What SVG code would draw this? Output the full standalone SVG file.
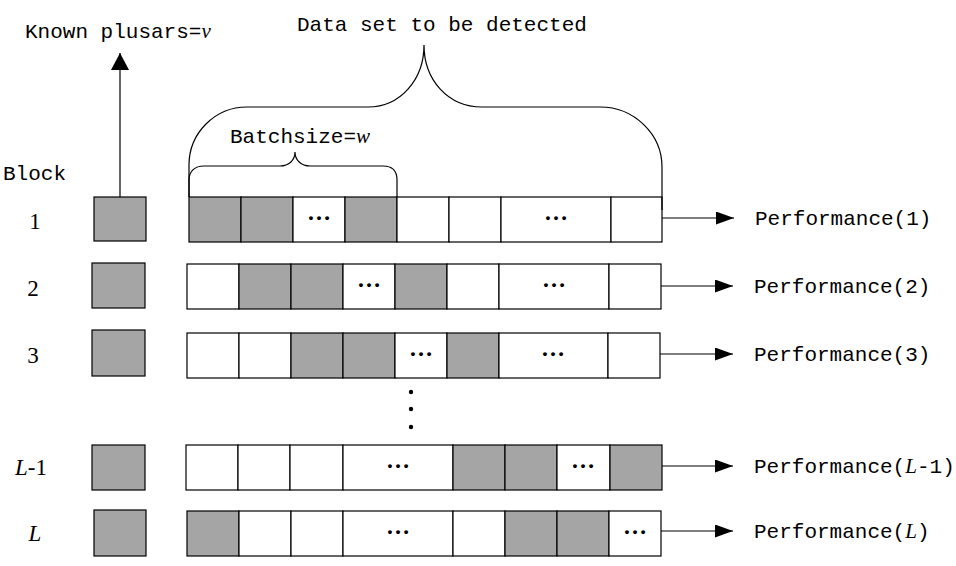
<svg xmlns="http://www.w3.org/2000/svg" width="956" height="566" viewBox="0 0 956 566">
<style>
.c{stroke:#000;stroke-width:1.2;fill:#fff}
.g{fill:#a5a5a5}
.m{font-family:"Liberation Mono",monospace;font-size:21px;fill:#000}
.i{font-family:"Liberation Serif",serif;font-style:italic}
.d{font-family:"Liberation Serif",serif;font-size:24px;font-weight:bold;text-anchor:middle;fill:#000}
.n{font-family:"Liberation Serif",serif;font-size:23px;text-anchor:middle;fill:#000}
.ln{stroke:#000;stroke-width:1.2;fill:none}
</style>
<defs>
<marker id="ah" markerWidth="18" markerHeight="13" refX="18" refY="6.5" orient="auto" markerUnits="userSpaceOnUse">
<path d="M0,0 L18,6.5 L0,13 Z" fill="#000"/>
</marker>
<marker id="ahb" markerWidth="17" markerHeight="18" refX="17" refY="9" orient="auto" markerUnits="userSpaceOnUse">
<path d="M0,0 L17,9 L0,18 Z" fill="#000"/>
</marker>
</defs>
<rect width="956" height="566" fill="#fff"/>

<g id="titles">
<text class="m" x="25" y="38">Known plusars=<tspan class="i">v</tspan></text>
<text class="m" x="297" y="31">Data set to be detected</text>
<text class="m" x="230" y="143">Batchsize=<tspan class="i">w</tspan></text>
<text class="m" x="3" y="180">Block</text>
</g>

<g id="row-labels">
<text class="n" x="35" y="229">1</text>
<text class="n" x="33" y="296">2</text>
<text class="n" x="33" y="363">3</text>
<text class="n" x="31" y="475"><tspan class="i">L</tspan>-1</text>
<text class="n" x="35" y="541"><tspan class="i">L</tspan></text>
</g>

<g id="known">
<rect class="c g" x="94" y="197" width="52" height="44"/>
<rect class="c g" x="92" y="263" width="53" height="45"/>
<rect class="c g" x="92" y="330" width="53" height="46"/>
<rect class="c g" x="92" y="445" width="53" height="45"/>
<rect class="c g" x="94" y="510" width="52" height="46"/>
</g>

<g id="row1">
<rect class="c g" x="189" y="197" width="52" height="45"/>
<rect class="c g" x="241" y="197" width="52" height="45"/>
<rect class="c" x="293" y="197" width="52" height="45"/>
<rect class="c g" x="345" y="197" width="52" height="45"/>
<rect class="c" x="397" y="197" width="52" height="45"/>
<rect class="c" x="449" y="197" width="52" height="45"/>
<rect class="c" x="501" y="197" width="110" height="45"/>
<rect class="c" x="611" y="197" width="51" height="45"/>
<text class="d" x="319" y="220">…</text>
<text class="d" x="556" y="220">…</text>
</g>

<g id="row2">
<rect class="c" x="187" y="264" width="52" height="45"/>
<rect class="c g" x="239" y="264" width="52" height="45"/>
<rect class="c g" x="291" y="264" width="52" height="45"/>
<rect class="c" x="343" y="264" width="52" height="45"/>
<rect class="c g" x="395" y="264" width="52" height="45"/>
<rect class="c" x="447" y="264" width="52" height="45"/>
<rect class="c" x="499" y="264" width="110" height="45"/>
<rect class="c" x="609" y="264" width="52" height="45"/>
<text class="d" x="369" y="287">…</text>
<text class="d" x="554" y="287">…</text>
</g>

<g id="row3">
<rect class="c" x="187" y="333" width="52" height="45"/>
<rect class="c" x="239" y="333" width="52" height="45"/>
<rect class="c g" x="291" y="333" width="52" height="45"/>
<rect class="c g" x="343" y="333" width="52" height="45"/>
<rect class="c" x="395" y="333" width="52" height="45"/>
<rect class="c g" x="447" y="333" width="52" height="45"/>
<rect class="c" x="499" y="333" width="109" height="45"/>
<rect class="c" x="608" y="333" width="52" height="45"/>
<text class="d" x="421" y="356">…</text>
<text class="d" x="553" y="356">…</text>
</g>

<g id="vdots">
<circle cx="411" cy="392" r="2.2" fill="#000"/>
<circle cx="411" cy="409" r="2.2" fill="#000"/>
<circle cx="411" cy="427" r="2.2" fill="#000"/>
</g>

<g id="rowL-1">
<rect class="c" x="186" y="445" width="52" height="45"/>
<rect class="c" x="238" y="445" width="52" height="45"/>
<rect class="c" x="290" y="445" width="53" height="45"/>
<rect class="c" x="343" y="445" width="110" height="45"/>
<rect class="c g" x="453" y="445" width="52" height="45"/>
<rect class="c g" x="505" y="445" width="52" height="45"/>
<rect class="c" x="557" y="445" width="53" height="45"/>
<rect class="c g" x="610" y="445" width="52" height="45"/>
<text class="d" x="398" y="468">…</text>
<text class="d" x="583" y="468">…</text>
</g>

<g id="rowL">
<rect class="c g" x="187" y="511" width="52" height="45"/>
<rect class="c" x="239" y="511" width="52" height="45"/>
<rect class="c" x="291" y="511" width="52" height="45"/>
<rect class="c" x="343" y="511" width="110" height="45"/>
<rect class="c" x="453" y="511" width="52" height="45"/>
<rect class="c g" x="505" y="511" width="52" height="45"/>
<rect class="c g" x="557" y="511" width="52" height="45"/>
<rect class="c" x="609" y="511" width="52" height="45"/>
<text class="d" x="398" y="534">…</text>
<text class="d" x="635" y="534">…</text>
</g>

<g id="performance">
<text class="m" x="755" y="225">Performance(1)</text>
<text class="m" x="754" y="293">Performance(2)</text>
<text class="m" x="754" y="361">Performance(3)</text>
<text class="m" x="754" y="473">Performance(<tspan class="i">L</tspan>-1)</text>
<text class="m" x="754" y="538">Performance(<tspan class="i">L</tspan>)</text>
</g>

<g id="connectors">
<line class="ln" x1="120" y1="197" x2="120" y2="53" marker-end="url(#ahb)"/>
<line class="ln" x1="662" y1="218" x2="734" y2="218" marker-end="url(#ah)"/>
<line class="ln" x1="661" y1="286" x2="733" y2="286" marker-end="url(#ah)"/>
<line class="ln" x1="660" y1="354" x2="733" y2="354" marker-end="url(#ah)"/>
<line class="ln" x1="662" y1="466" x2="733" y2="466" marker-end="url(#ah)"/>
<line class="ln" x1="661" y1="531" x2="733" y2="531" marker-end="url(#ah)"/>
<path class="ln" d="M189,197 L189,165 C189,133 215,107 247,107 L368,107 C400,107 424,80 424,45 C424,80 448,107 482,107 L600,107 C634,107 662,134 662,167 L662,210"/>
<path class="ln" d="M189,197 L189,180 C189,171 195,166 204,166 L280,166 C289,166 295,160 295,152 C295,160 301,166 310,166 L383,166 C392,166 397,171 397,180 L397,197"/>
</g>
</svg>
